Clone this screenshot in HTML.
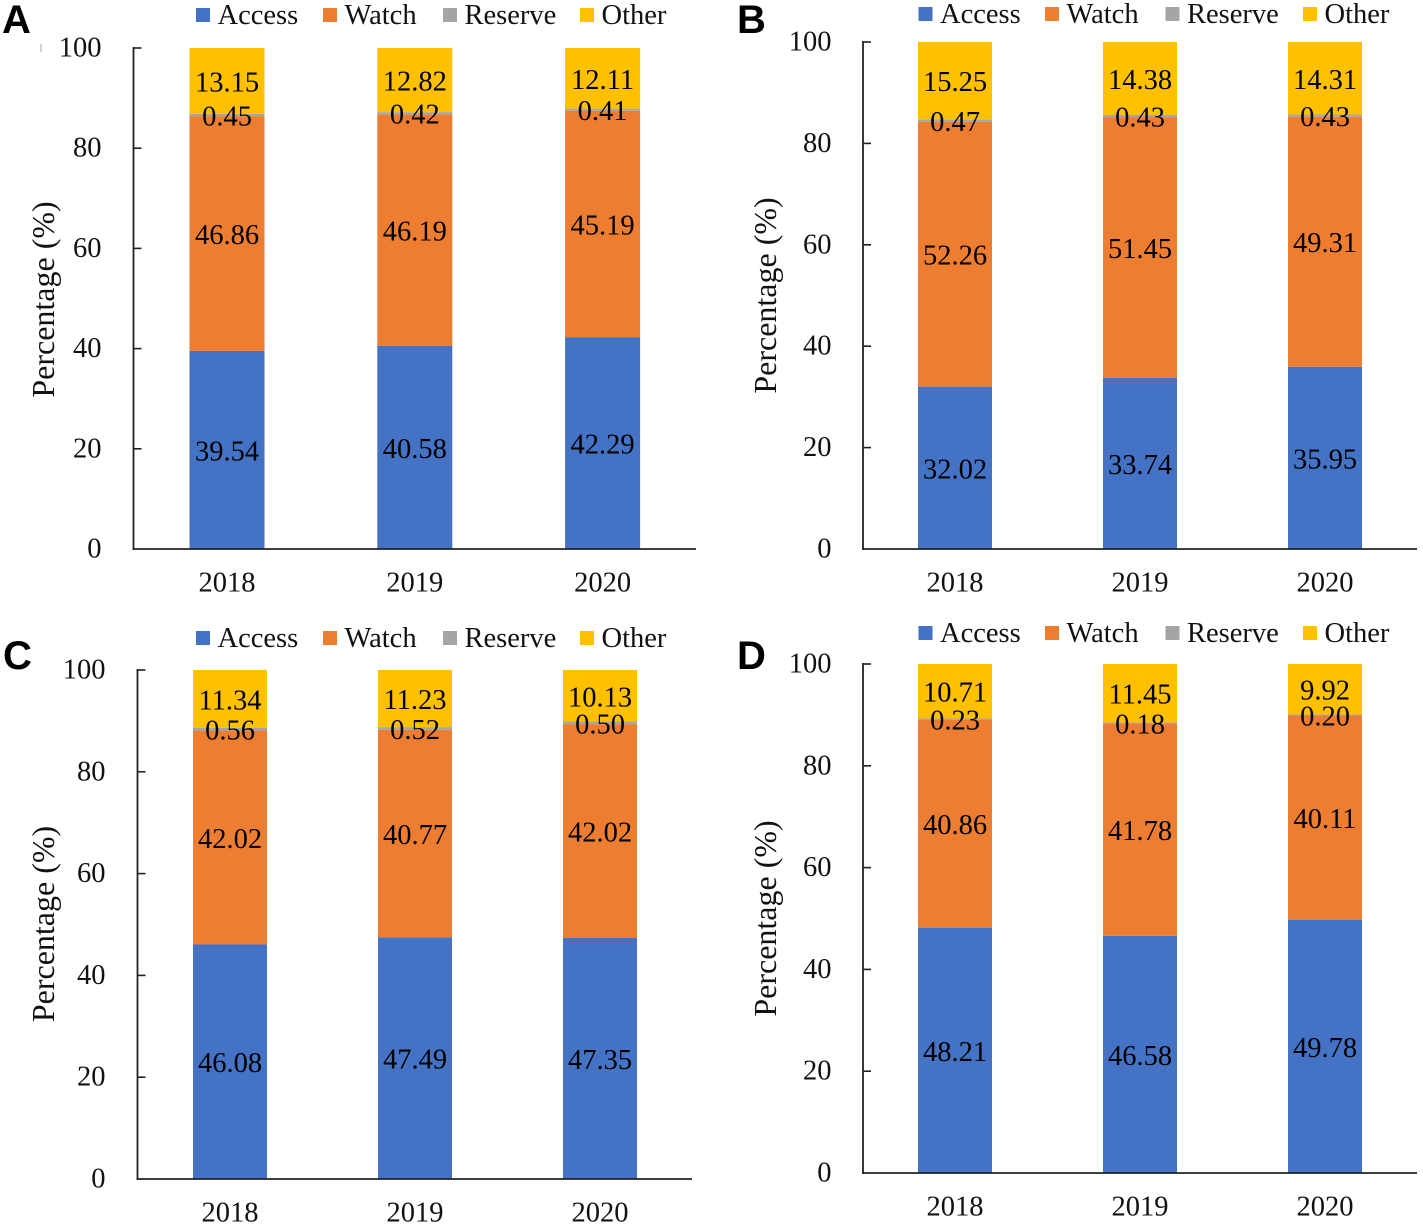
<!DOCTYPE html>
<html lang="en">
<head>
<meta charset="utf-8">
<title>Antibiotic consumption by AWaRe category, 2018-2020</title>
<style>
html,body{margin:0;padding:0;background:#fff}
svg{display:block;font-family:"Liberation Serif",serif;fill:#111}
</style>
</head>
<body>
<svg id="figure" xmlns="http://www.w3.org/2000/svg" width="1423" height="1225" viewBox="0 0 1423 1225">
<rect x="40" y="44" width="2" height="8" fill="#d4d4d4"></rect>
</svg>
<script>
const categories = ['2018', '2019', '2020'];
const seriesNames = ['Access', 'Watch', 'Reserve', 'Other'];
const yTickLabels = [0, 20, 40, 60, 80, 100];
const yAxisTitle = 'Percentage (%)';

const accessA = [39.54, 40.58, 42.29];
const watchA = [46.86, 46.19, 45.19];
const reserveA = [0.45, 0.42, 0.41];
const otherA = [13.15, 12.82, 12.11];

const accessB = [32.02, 33.74, 35.95];
const watchB = [52.26, 51.45, 49.31];
const reserveB = [0.47, 0.43, 0.43];
const otherB = [15.25, 14.38, 14.31];

const accessC = [46.08, 47.49, 47.35];
const watchC = [42.02, 40.77, 42.02];
const reserveC = [0.56, 0.52, 0.50];
const otherC = [11.34, 11.23, 10.13];

const accessD = [48.21, 46.58, 49.78];
const watchD = [40.86, 41.78, 40.11];
const reserveD = [0.23, 0.18, 0.20];
const otherD = [10.71, 11.45, 9.92];

const NS = 'http://www.w3.org/2000/svg';
const root = document.getElementById('figure');
const seriesColors = ['#4472C4', '#ED7D31', '#A5A5A5', '#FFC000'];
const FONT = 28.5;

function make(tag, parent, attrs, text) {
  const el = document.createElementNS(NS, tag);
  for (const k in attrs) el.setAttribute(k, attrs[k]);
  if (text !== undefined) el.textContent = text;
  parent.appendChild(el);
  return el;
}

function drawPanel(cfg) {
  const key = cfg.letter.toLowerCase();
  const yScale = v => cfg.bottom - (v / 100) * (cfg.bottom - cfg.top);
  const xScale = i => cfg.firstCenter + i * cfg.step;

  const g = make('g', root, {});
  
  

  const letter = make('text', g, {
    x: cfg.letterX, y: cfg.letterY, 'font-size': 40, 'font-weight': 700,
    'font-family': '"Liberation Sans",sans-serif', fill: '#000'
  }, cfg.letter);
  
  

  // stacked bars
  categories.forEach((cat, i) => {
    let base = 0;
    cfg.series.forEach((values, s) => {
      const v = values[i];
      const yTop = yScale(base + v);
      const yBase = yScale(base);
      const bar = make('rect', g, {
        x: xScale(i) - cfg.barWidth / 2, y: yTop,
        width: cfg.barWidth, height: yBase - yTop, fill: seriesColors[s]
      });
      
      
      base += v;
    });
  });

  // axes
  const yAxis = make('line', g, {
    x1: cfg.axisX, x2: cfg.axisX, y1: cfg.top - 1, y2: cfg.bottom + 1,
    stroke: '#222', 'stroke-width': 1.8
  });
  
  

  const xAxis = make('line', g, {
    x1: cfg.axisX - 1, x2: cfg.axisRight, y1: cfg.bottom, y2: cfg.bottom,
    stroke: '#222', 'stroke-width': 1.8
  });
  
  

  yTickLabels.forEach(t => {
    const y = yScale(t);
    if (t > 0) {
      const tick = make('line', g, {
        x1: cfg.axisX, x2: cfg.axisX + 8, y1: y, y2: y, stroke: '#222', 'stroke-width': 1.6
      });
      
      
    }
    const label = make('text', g, {
      x: cfg.tickRight, y: y + 8.5, 'font-size': FONT, 'text-anchor': 'end'
    }, String(t));
    
    
  });

  categories.forEach((cat, i) => {
    const label = make('text', g, {
      x: xScale(i), y: cfg.catY, 'font-size': FONT, 'text-anchor': 'middle'
    }, cat);
    
    
  });

  const title = make('text', g, {
    transform: 'translate(' + cfg.titleX + ' ' + cfg.titleY + ') rotate(-90)',
    'font-size': 32, 'text-anchor': 'middle'
  }, yAxisTitle);
  
  

  // data labels
  categories.forEach((cat, i) => {
    let base = 0;
    cfg.series.forEach((values, s) => {
      const v = values[i];
      const mid = yScale(base + v / 2);
      const label = make('text', g, {
        x: xScale(i) + cfg.labelShift, y: mid + 10.5,
        'font-size': FONT, 'text-anchor': 'middle', fill: '#000'
      }, v.toFixed(2));
      
      
      base += v;
    });
  });

  // legend
  const legend = make('g', g, {});
  
  
  seriesNames.forEach((name, s) => {
    const swatch = make('rect', legend, {
      x: cfg.swatchX[s], y: cfg.legendY - 7, width: 14, height: 14, fill: seriesColors[s]
    });
    
    
    const text = make('text', legend, {
      x: cfg.swatchX[s] + 21.5, y: cfg.legendY + 9, 'font-size': FONT
    }, name);
    
    
  });
}

const leftLegend = [196, 323, 443, 580];
const rightLegend = [918.5, 1045, 1165.5, 1303];

drawPanel({
  letter: 'A', letterX: 2, letterY: 33,
  series: [accessA, watchA, reserveA, otherA],
  axisX: 133.5, axisRight: 696, top: 48, bottom: 549,
  firstCenter: 227, step: 187.8, barWidth: 75, labelShift: 0,
  tickRight: 101.5, catY: 591.5, titleX: 54, titleY: 299.5,
  swatchX: leftLegend, legendY: 15
});
drawPanel({
  letter: 'B', letterX: 737, letterY: 33,
  series: [accessB, watchB, reserveB, otherB],
  axisX: 863, axisRight: 1417, top: 42, bottom: 549,
  firstCenter: 955, step: 185, barWidth: 74, labelShift: 0,
  tickRight: 831.5, catY: 591.5, titleX: 776, titleY: 295.5,
  swatchX: rightLegend, legendY: 14
});
drawPanel({
  letter: 'C', letterX: 3, letterY: 669,
  series: [accessC, watchC, reserveC, otherC],
  axisX: 137.5, axisRight: 692, top: 670, bottom: 1179,
  firstCenter: 230, step: 185, barWidth: 74, labelShift: 0,
  tickRight: 105.5, catY: 1221.5, titleX: 54, titleY: 924,
  swatchX: leftLegend, legendY: 638
});
drawPanel({
  letter: 'D', letterX: 737, letterY: 669,
  series: [accessD, watchD, reserveD, otherD],
  axisX: 863, axisRight: 1417, top: 664, bottom: 1173,
  firstCenter: 955, step: 185, barWidth: 74, labelShift: 0,
  tickRight: 831.5, catY: 1215.5, titleX: 776, titleY: 918.5,
  swatchX: rightLegend, legendY: 633
});
</script>
</body>
</html>
